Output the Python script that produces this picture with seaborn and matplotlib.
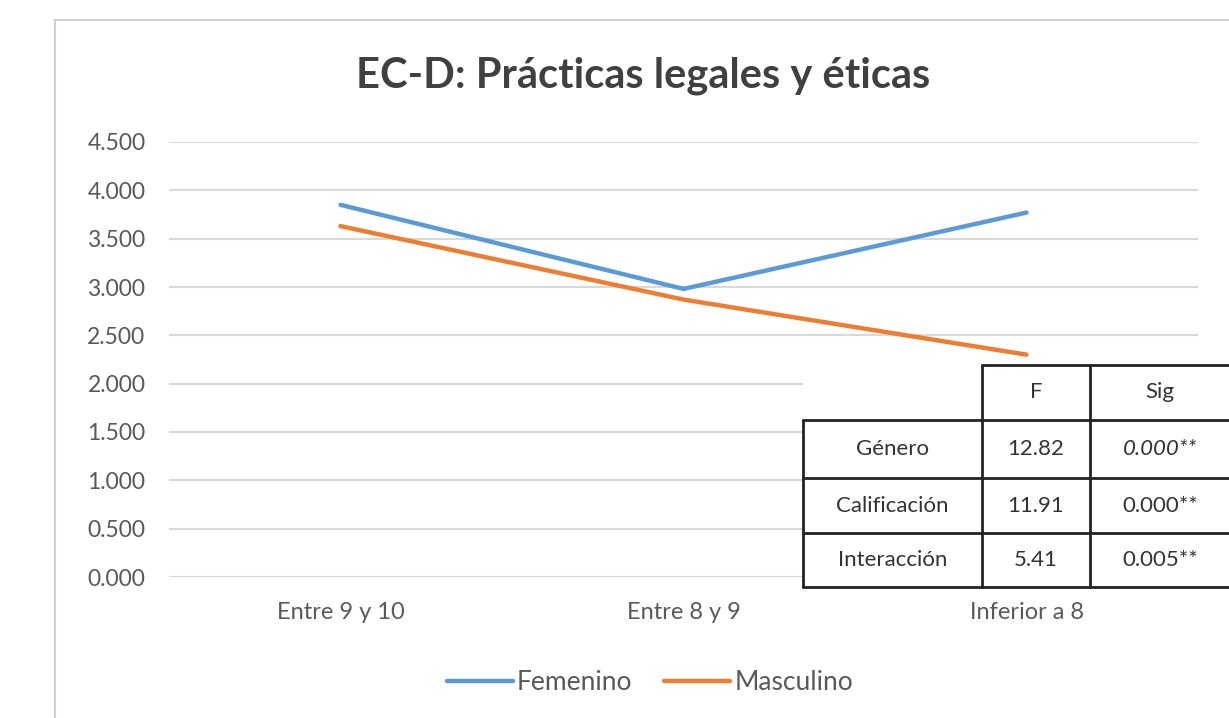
import pandas as pd
import matplotlib
matplotlib.use("Agg")
import matplotlib.pyplot as plt
import matplotlib.lines as mlines
import matplotlib.patches as mpatches
import seaborn as sns

# data
categories = ["Entre 9 y 10", "Entre 8 y 9", "Inferior a 8"]
femenino = [3.85, 2.98, 3.77]
masculino = [3.63, 2.87, 2.30]
series_names = ["Femenino", "Masculino"]
y_ticks = [0.0, 0.5, 1.0, 1.5, 2.0, 2.5, 3.0, 3.5, 4.0, 4.5]

table_cols = ["F", "Sig"]
table_rows = ["Género", "Calificación", "Interacción"]
table_f = ["12.82", "11.91", "5.41"]
table_sig = ["0.000**", "0.000**", "0.005**"]

TEXT = "#595959"
W, H = 1229, 718

sns.set_theme(style="white")
plt.rcParams["font.family"] = ["Lato", "DejaVu Sans"]

df = pd.DataFrame({
    "cat": categories * 2,
    "val": femenino + masculino,
    "serie": [series_names[0]] * 3 + [series_names[1]] * 3,
})

fig = plt.figure(figsize=(W / 100, H / 100), dpi=100)
fig.patch.set_facecolor("white")

def fx(px):
    return px / W

def fy(py):
    return 1 - py / H

# outer chart frame (cut by the image edge on the right and bottom)
fig.patches.append(mpatches.Rectangle((fx(55), fy(760)), fx(1300 - 55), fy(20) - fy(760),
                                      transform=fig.transFigure, fill=False,
                                      edgecolor="#d0d0d0", linewidth=1.5))

ax = fig.add_axes([fx(169), fy(577), fx(1198 - 169), fy(142) - fy(577)])
sns.lineplot(data=df, x="cat", y="val", hue="serie", sort=False, ax=ax,
             palette=["#5B9BD5", "#ED7D31"], linewidth=3.2, legend=False)

ax.set_xlim(-0.5, 2.5)
ax.set_ylim(0, 4.5)
ax.set_yticks(y_ticks)
ax.set_yticklabels([f"{v:.3f}" for v in y_ticks])
ax.yaxis.grid(True, color="#d9d9d9", linewidth=1.5)
ax.set_axisbelow(True)
for s in ax.spines.values():
    s.set_visible(False)
ax.set_xlabel("")
ax.set_ylabel("")
ax.tick_params(axis="y", length=0, pad=17, labelsize=16.5, labelcolor=TEXT)
ax.tick_params(axis="x", length=0, pad=18, labelsize=17, labelcolor=TEXT)

fig.text(fx(643), fy(76), "EC-D: Prácticas legales y éticas", ha="center", va="center",
         fontsize=30, color="#404040", fontweight="bold")

# legend
handles = [mlines.Line2D([], [], color=c, linewidth=3.2) for c in ["#5B9BD5", "#ED7D31"]]
fig.legend(handles, series_names, loc="center", bbox_to_anchor=(fx(650), fy(683)), ncol=2,
           frameon=False, fontsize=19, handlelength=2.5, handletextpad=0.15,
           columnspacing=1.2, labelcolor=TEXT)

# ANOVA table over the lower right corner
fig.patches.append(mpatches.Rectangle((fx(803), fy(587)), fx(1229 - 803), fy(365) - fy(587),
                                      transform=fig.transFigure, facecolor="white",
                                      edgecolor="none", zorder=5))
col_x = [803, 982, 1090, 1240]
row_y = [365, 420, 478, 533, 587]
lw = 2.0
fig.lines.append(mlines.Line2D([fx(982), fx(1240)], [fy(365), fy(365)], transform=fig.transFigure,
                               color="#222222", linewidth=lw, zorder=6))
for yy in row_y[1:]:
    fig.lines.append(mlines.Line2D([fx(803), fx(1240)], [fy(yy), fy(yy)], transform=fig.transFigure,
                                   color="#222222", linewidth=lw, zorder=6))
fig.lines.append(mlines.Line2D([fx(803), fx(803)], [fy(420), fy(587)], transform=fig.transFigure,
                               color="#222222", linewidth=lw, zorder=6))
for xx in col_x[1:3]:
    fig.lines.append(mlines.Line2D([fx(xx), fx(xx)], [fy(365), fy(587)], transform=fig.transFigure,
                                   color="#222222", linewidth=lw, zorder=6))

col_c = [(col_x[i] + col_x[i + 1]) / 2 for i in range(3)]
col_c[2] = 1160
row_c = [(row_y[i] + row_y[i + 1]) / 2 for i in range(4)]
tkw = dict(ha="center", va="center", fontsize=16, color="#333333", zorder=7)
fig.text(fx(col_c[1]), fy(row_c[0]), table_cols[0], **tkw)
fig.text(fx(col_c[2]), fy(row_c[0]), table_cols[1], **tkw)
for i, name in enumerate(table_rows):
    fig.text(fx(col_c[0]), fy(row_c[i + 1]), name, **tkw)
    fig.text(fx(col_c[1]), fy(row_c[i + 1]), table_f[i], **tkw)
    fig.text(fx(col_c[2]), fy(row_c[i + 1]), table_sig[i],
             style="italic" if i == 0 else "normal", **tkw)

fig.savefig("out.png", dpi=100)
